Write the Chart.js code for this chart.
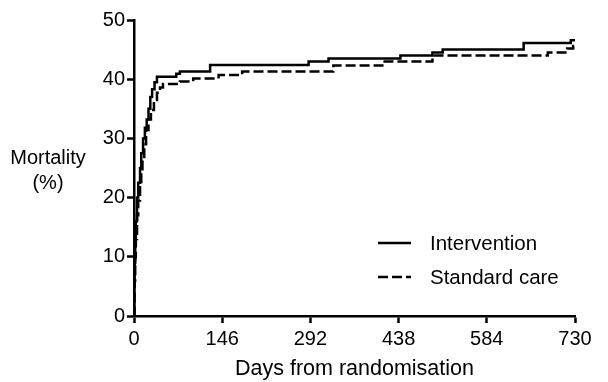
<!DOCTYPE html>
<html>
<head>
<meta charset="utf-8">
<script src="https://cdn.jsdelivr.net/npm/chart.js@4"></script>
<style>
html,body{margin:0;padding:0;background:#fff;}
#wrap{width:608px;height:382px;position:relative;}
</style>
</head>
<body>
<div id="wrap"><canvas id="c" width="608" height="382"></canvas></div>
<script>
// Data
const seriesNames = ["Intervention", "Standard care"];
const interventionDays = [0, 0.5, 1, 2, 3, 5, 7, 10, 12, 15, 18, 21, 24, 27, 30, 34, 38, 70, 76, 126, 289, 322, 441, 494, 511, 645, 723, 730];
const interventionMort = [0, 5, 9, 12, 16, 20, 22.5, 25, 27.5, 30, 31.8, 33.2, 35, 37, 38.3, 39.5, 40.4, 40.9, 41.3, 42.4, 43.0, 43.5, 44.0, 44.5, 45.0, 46.1, 46.6, 46.6];
const standardDays = [0, 1, 2, 3, 5, 7, 10, 12, 14, 17, 20, 24, 28, 33, 38, 43, 48, 76, 98, 140, 179, 330, 411, 494, 685, 717, 727, 730];
const standardMort = [0, 6, 10, 13, 17, 19.5, 22, 24.5, 26.5, 29, 31.4, 33.2, 34.8, 36.5, 37.7, 38.6, 39.2, 39.6, 40.1, 40.7, 41.3, 42.3, 43.0, 44.0, 44.5, 45.2, 45.6, 45.6];
const xTicks = [0, 146, 292, 438, 584, 730];
const yTicks = [0, 10, 20, 30, 40, 50];

const FONT = "'Liberation Sans', Arial, sans-serif";
const toPts = (xs, ys) => xs.map((x, i) => ({x: x, y: ys[i]}));

const customText = {
  id: 'customText',
  afterDraw(chart) {
    const ctx = chart.ctx;
    ctx.save();
    ctx.fillStyle = '#000';
    ctx.font = "20px " + FONT;
    ctx.textAlign = 'center';
    ctx.textBaseline = 'middle';
    ctx.fillText('Mortality', 48, 158);
    ctx.fillText('(%)', 48, 183);
    // legend
    const items = [
      {label: seriesNames[0], dash: [], y: 243},
      {label: seriesNames[1], dash: [10, 4], y: 277}
    ];
    ctx.textAlign = 'left';
    ctx.font = "20.5px " + FONT;
    items.forEach(it => {
      ctx.beginPath();
      ctx.setLineDash(it.dash);
      ctx.lineWidth = 2.5;
      ctx.strokeStyle = '#000';
      ctx.moveTo(378, it.y);
      ctx.lineTo(411, it.y);
      ctx.stroke();
      ctx.setLineDash([]);
      ctx.fillText(it.label, 430, it.y + 1);
    });
    ctx.restore();
  }
};

new Chart(document.getElementById('c'), {
  type: 'scatter',
  data: {
    datasets: [
      {label: seriesNames[0], data: toPts(interventionDays, interventionMort), showLine: true, stepped: true,
       borderColor: '#000', borderWidth: 2.5, pointRadius: 0, fill: false},
      {label: seriesNames[1], data: toPts(standardDays, standardMort), showLine: true, stepped: true,
       borderColor: '#000', borderWidth: 2.5, borderDash: [10, 4], pointRadius: 0, fill: false}
    ]
  },
  options: {
    responsive: false,
    animation: false,
    devicePixelRatio: 1,
    layout: {padding: {top: 20, right: 33, bottom: 0, left: 0}},
    plugins: {legend: {display: false}, tooltip: {enabled: false}},
    scales: {
      x: {
        type: 'linear', min: 0, max: 730,
        afterBuildTicks: s => { s.ticks = xTicks.map(v => ({value: v})); },
        afterFit: s => { s.height = 66; },
        grid: {drawOnChartArea: false, drawTicks: true, tickLength: 7, tickWidth: 2.5, tickColor: '#000'},
        border: {display: true, color: '#000', width: 2.5},
        ticks: {color: '#000', font: {family: FONT, size: 20}, padding: 4, maxRotation: 0},
        title: {display: true, text: 'Days from randomisation', color: '#000', font: {family: FONT, size: 21.5}, padding: {top: 0, bottom: 0}}
      },
      y: {
        min: 0, max: 50,
        afterBuildTicks: s => { s.ticks = yTicks.map(v => ({value: v})); },
        afterFit: s => { s.width = 134; },
        grid: {drawOnChartArea: false, drawTicks: true, tickLength: 7, tickWidth: 2.5, tickColor: '#000'},
        border: {display: true, color: '#000', width: 2.5},
        ticks: {color: '#000', font: {family: FONT, size: 20}, padding: 2}
      }
    }
  },
  plugins: [customText]
});
</script>
</body>
</html>
